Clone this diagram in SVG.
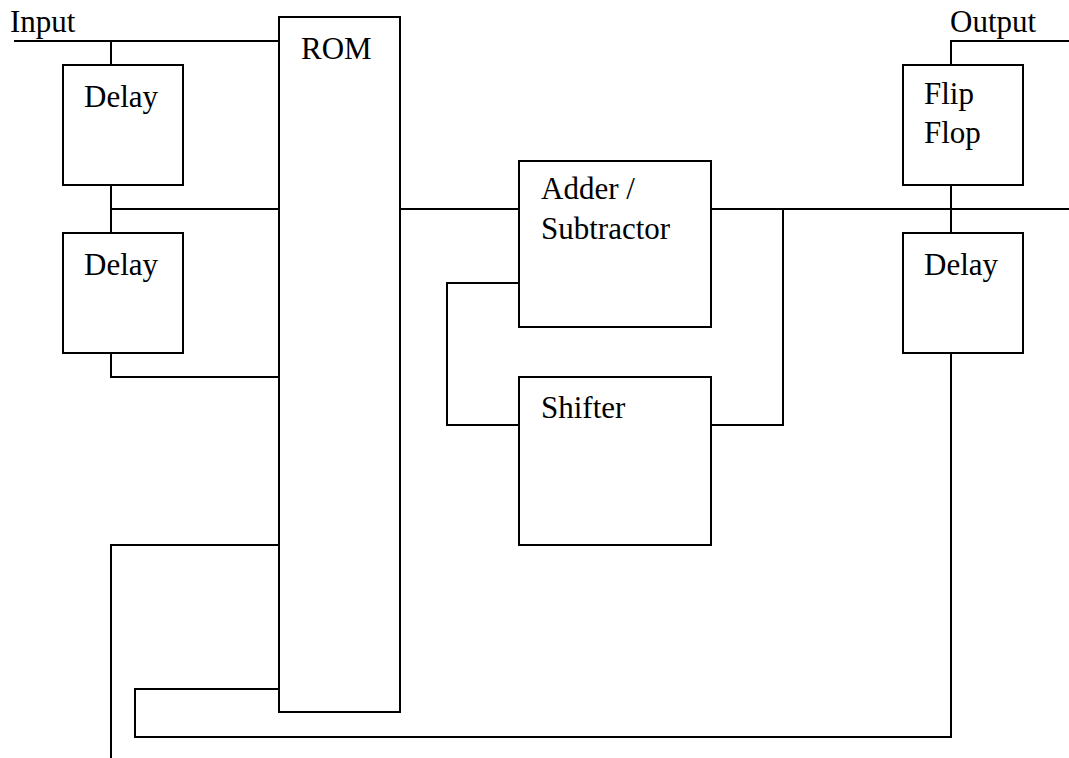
<svg xmlns="http://www.w3.org/2000/svg" width="1069" height="758" viewBox="0 0 1069 758">
<style>
.box{fill:#fff;stroke:#000;stroke-width:2}
.w{fill:none;stroke:#000;stroke-width:2}
</style>
<rect width="1069" height="758" fill="#fff"/>
<g id="connectors">
<polyline class="w" points="14,41 279,41"/>
<polyline class="w" points="111,41 111,65"/>
<polyline class="w" points="111,185 111,233"/>
<polyline class="w" points="111,209 279,209"/>
<polyline class="w" points="111,353 111,377 279,377"/>
<polyline class="w" points="400,209 519,209"/>
<polyline class="w" points="519,283 447,283 447,425 519,425"/>
<polyline class="w" points="711,209 1069,209"/>
<polyline class="w" points="783,209 783,425 711,425"/>
<polyline class="w" points="951,65 951,41 1069,41"/>
<polyline class="w" points="951,185 951,233"/>
<polyline class="w" points="951,353 951,737 135,737 135,689 279,689"/>
<polyline class="w" points="279,545 111,545 111,758"/>
</g>
<g id="input-label"><text x="10" y="32" font-family="Liberation Serif" font-size="31">Input</text></g>
<g id="output-label"><text x="950" y="32" font-family="Liberation Serif" font-size="31">Output</text></g>
<g id="delay1"><rect class="box" x="63" y="65" width="120" height="120"/><text x="84" y="107" font-family="Liberation Serif" font-size="31">Delay</text></g>
<g id="delay2"><rect class="box" x="63" y="233" width="120" height="120"/><text x="84" y="275" font-family="Liberation Serif" font-size="31">Delay</text></g>
<g id="rom"><rect class="box" x="279" y="17" width="121" height="695"/><text x="301" y="59" font-family="Liberation Serif" font-size="31">ROM</text></g>
<g id="adder"><rect class="box" x="519" y="161" width="192" height="166"/><text x="541" y="199" font-family="Liberation Serif" font-size="31">Adder /</text><text x="541" y="239" font-family="Liberation Serif" font-size="31">Subtractor</text></g>
<g id="shifter"><rect class="box" x="519" y="377" width="192" height="168"/><text x="541" y="418" font-family="Liberation Serif" font-size="31">Shifter</text></g>
<g id="flipflop"><rect class="box" x="903" y="65" width="120" height="120"/><text x="924" y="104" font-family="Liberation Serif" font-size="31">Flip</text><text x="924" y="143" font-family="Liberation Serif" font-size="31">Flop</text></g>
<g id="delay3"><rect class="box" x="903" y="233" width="120" height="120"/><text x="924" y="275" font-family="Liberation Serif" font-size="31">Delay</text></g>
</svg>
